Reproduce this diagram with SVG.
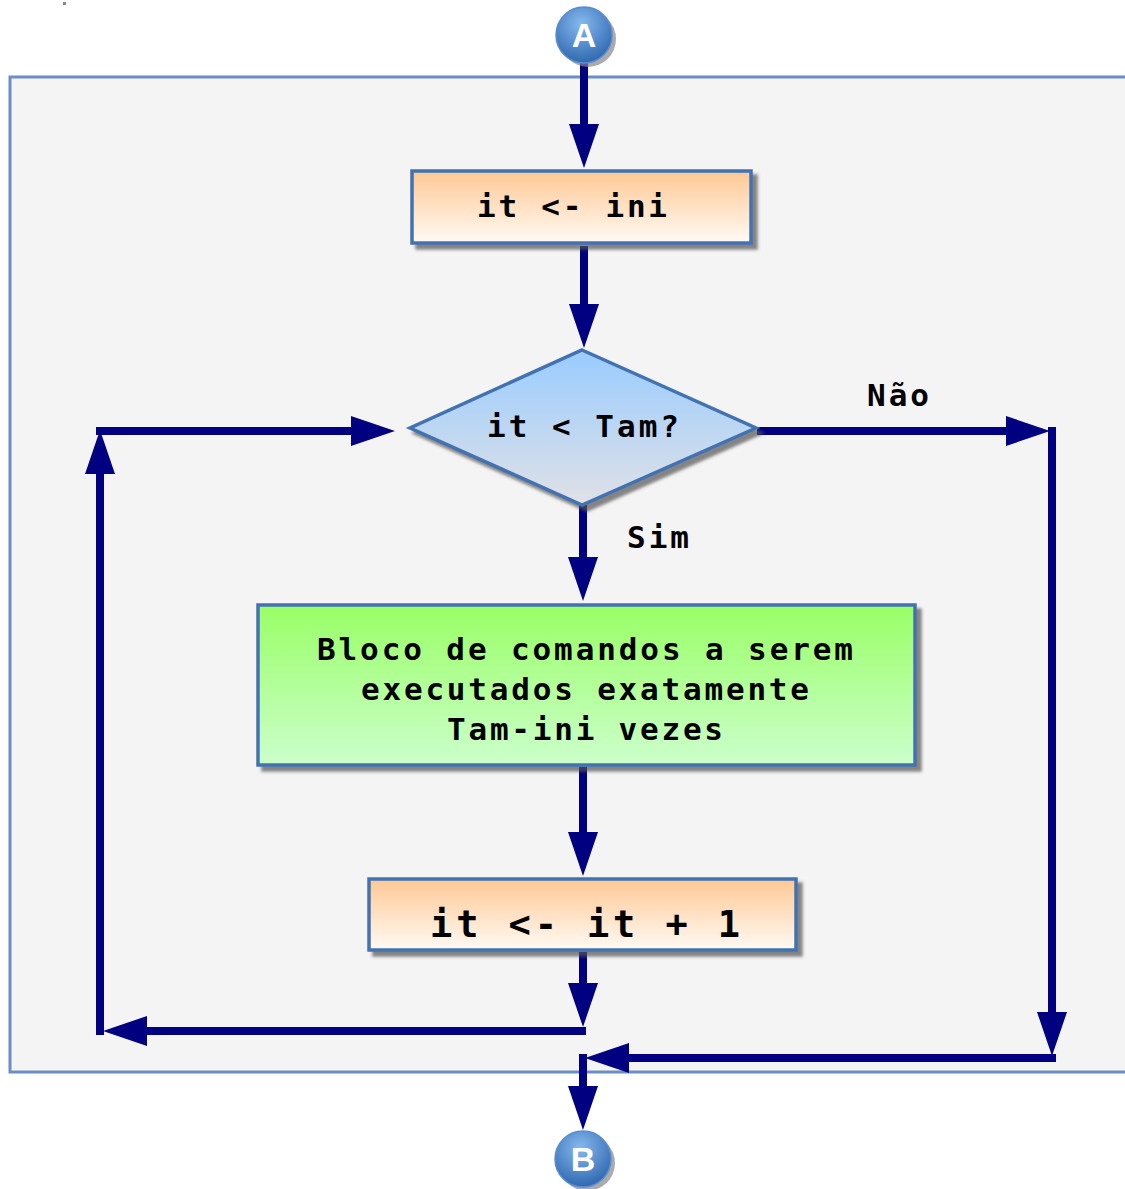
<svg xmlns="http://www.w3.org/2000/svg" width="1125" height="1189" viewBox="0 0 1125 1189">
  <style>
    .box { stroke: #4372b0; stroke-width: 3.5; }
    .lbl { font-family: "DejaVu Sans Mono", "Liberation Mono", monospace; font-weight: bold; fill: #000; }
    .conn { stroke: #000080; stroke-width: 8; fill: none; marker-end: url(#ah); }
    .circ-t { font-family: "Liberation Sans", Arial, sans-serif; font-weight: bold; font-size: 34px; fill: #fff; }
  </style>
  <defs>
    <linearGradient id="gOrange" x1="0" y1="0" x2="0" y2="1">
      <stop offset="0" stop-color="#ffc894"/>
      <stop offset="1" stop-color="#fffaf4"/>
    </linearGradient>
    <linearGradient id="gBlue" x1="0" y1="0" x2="0" y2="1">
      <stop offset="0" stop-color="#99ccff"/>
      <stop offset="1" stop-color="#e0e1e6"/>
    </linearGradient>
    <linearGradient id="gGreen" x1="0" y1="0" x2="0" y2="1">
      <stop offset="0" stop-color="#99ff66"/>
      <stop offset="1" stop-color="#ccffcc"/>
    </linearGradient>
    <radialGradient id="gCirc" cx="0.45" cy="0.3" r="0.75">
      <stop offset="0" stop-color="#86b9ee"/>
      <stop offset="1" stop-color="#2a63ac"/>
    </radialGradient>
    <filter id="sh" x="-10%" y="-10%" width="130%" height="130%">
      <feDropShadow dx="5" dy="5" stdDeviation="1.5" flood-color="#555" flood-opacity="0.7"/>
    </filter>
    <marker id="ah" markerUnits="userSpaceOnUse" markerWidth="44" markerHeight="32" viewBox="0 0 44 32" refX="12" refY="16" orient="auto">
      <path d="M0,1 L44,16 L0,31 z" fill="#000080"/>
    </marker>
  </defs>

  <rect x="0" y="0" width="1125" height="1189" fill="#ffffff"/>
  <rect x="63" y="2" width="3" height="3" fill="#888"/>

  <g id="container">
    <rect x="10" y="77" width="1130" height="995" fill="#f4f4f4" stroke="#6b8fc4" stroke-width="3"/>
  </g>

  <g id="connectors">
    <path class="conn" d="M584,63 V136"/>
    <path class="conn" d="M584,246 V316"/>
    <path class="conn" d="M583,505 V569"/>
    <path class="conn" d="M583,767 V844"/>
    <path class="conn" d="M583,952 V995"/>
    <path class="conn" d="M586,1031 H135"/>
    <path class="conn" d="M100,1035 V462"/>
    <path class="conn" d="M96,431 H363"/>
    <path class="conn" d="M757,431 H1018"/>
    <path class="conn" d="M1052,427 V1024"/>
    <path class="conn" d="M1056,1058 H617"/>
    <path class="conn" d="M583,1054 V1098"/>
    <text class="lbl" x="898" y="406" font-size="31" text-anchor="middle" textLength="62">Não</text>
    <text class="lbl" x="658" y="548" font-size="31" text-anchor="middle" textLength="62">Sim</text>
  </g>

  <g id="nodeA">
    <circle cx="588" cy="39" r="28" fill="#888" opacity="0.7"/>
    <circle cx="584" cy="35" r="28" fill="url(#gCirc)" stroke="#5a8cd0" stroke-width="1.5"/>
    <text class="circ-t" x="584" y="47" text-anchor="middle">A</text>
  </g>

  <g id="box1">
    <rect class="box" x="412" y="171" width="339" height="72" fill="url(#gOrange)" filter="url(#sh)"/>
    <text class="lbl" x="572" y="217" font-size="31" text-anchor="middle" textLength="190">it &lt;- ini</text>
  </g>

  <g id="decision">
    <polygon class="box" points="582,350 756,428 582,505 410,428" fill="url(#gBlue)" stroke-width="2.5" filter="url(#sh)"/>
    <text class="lbl" x="583" y="437" font-size="31" text-anchor="middle" textLength="192">it &lt; Tam?</text>
  </g>

  <g id="block">
    <rect class="box" x="258" y="605" width="657" height="160" fill="url(#gGreen)" filter="url(#sh)"/>
    <text class="lbl" x="585" y="660" font-size="31" text-anchor="middle" textLength="536">Bloco de comandos a serem</text>
    <text class="lbl" x="585" y="700" font-size="31" text-anchor="middle" textLength="448">executados exatamente</text>
    <text class="lbl" x="585" y="740" font-size="31" text-anchor="middle" textLength="276">Tam-ini vezes</text>
  </g>

  <g id="box2">
    <rect class="box" x="369" y="879" width="427" height="71" fill="url(#gOrange)" filter="url(#sh)"/>
    <text class="lbl" x="585" y="937" font-size="37" text-anchor="middle" textLength="310">it &lt;- it + 1</text>
  </g>

  <g id="nodeB">
    <circle cx="587" cy="1163" r="28" fill="#888" opacity="0.7"/>
    <circle cx="583" cy="1159" r="28" fill="url(#gCirc)" stroke="#5a8cd0" stroke-width="1.5"/>
    <text class="circ-t" x="583" y="1171" text-anchor="middle">B</text>
  </g>
</svg>
